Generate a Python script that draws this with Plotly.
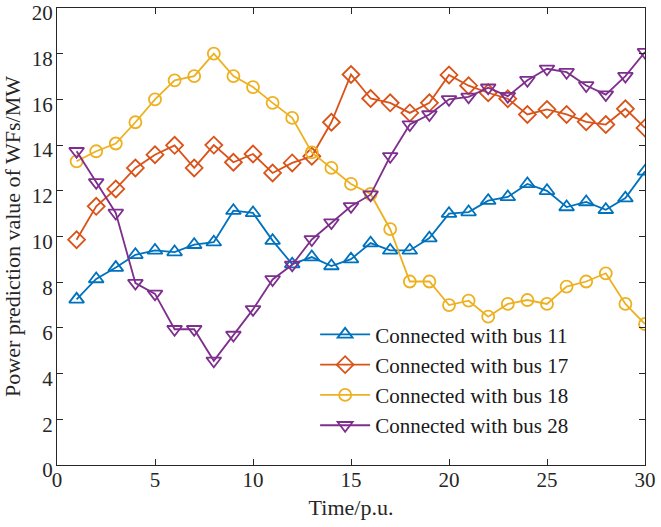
import plotly.graph_objects as go

time = list(range(1, 31))

bus11 = [7.25, 8.14, 8.64, 9.2, 9.39, 9.32, 9.64, 9.75, 11.13, 11.03,
         9.82, 8.79, 9.1, 8.71, 9.01, 9.71, 9.39, 9.39, 9.93, 11.0,
         11.07, 11.57, 11.73, 12.3, 12.0, 11.29, 11.51, 11.17, 11.68, 12.85]
bus17 = [9.86, 11.32, 12.08, 13.0, 13.58, 13.99, 13.0, 14.0, 13.25, 13.61,
         12.78, 13.22, 13.51, 15.0, 17.09, 16.04, 15.85, 15.41, 15.85, 17.07,
         16.6, 16.29, 16.03, 15.34, 15.56, 15.34, 15.02, 14.9, 15.59, 14.75]
bus18 = [13.29, 13.73, 14.07, 15.0, 16.0, 16.83, 17.02, 18.0, 17.02, 16.54,
         15.85, 15.19, 13.68, 13.0, 12.3, 11.86, 10.32, 8.03, 8.03, 7.0,
         7.19, 6.49, 7.05, 7.22, 7.05, 7.81, 8.03, 8.39, 7.05, 6.17]
bus28 = [13.73, 12.37, 11.03, 7.96, 7.49, 5.94, 5.94, 4.56, 5.69, 6.81,
         8.12, 8.76, 9.87, 10.61, 11.32, 11.83, 13.51, 14.9, 15.34, 16.0,
         16.11, 16.51, 16.14, 16.84, 17.34, 17.19, 16.61, 16.21, 17.02, 18.07]

x_ticks = [0, 5, 10, 15, 20, 25, 30]
y_ticks = [0, 2, 4, 6, 8, 10, 12, 14, 16, 18, 20]

names = ["Connected with bus 11", "Connected with bus 17",
         "Connected with bus 18", "Connected with bus 28"]
colors = ["#0072BD", "#D95319", "#EDB120", "#7E2F8E"]
symbols = ["triangle-up-open", "diamond-open", "circle-open", "triangle-down-open"]
sizes = [13, 13, 12, 13]

fig = go.Figure()
for ys, nm, c, s, sz in zip([bus11, bus17, bus18, bus28], names, colors, symbols, sizes):
    fig.add_trace(go.Scatter(
        x=time, y=ys, name=nm, mode="lines+markers",
        line=dict(color=c, width=1.8),
        marker=dict(symbol=s, size=sz, color=c, line=dict(color=c, width=1.8)),
    ))

axis_common = dict(
    showline=True, linecolor="#262626", linewidth=1.3, mirror="ticks",
    ticks="inside", ticklen=6, tickwidth=1, tickcolor="#262626",
    showgrid=False, zeroline=False, automargin=False,
    ticklabeloverflow="allow",
    tickfont=dict(family="Liberation Serif", size=21, color="#262626"),
)

fig.update_layout(
    width=661, height=527,
    margin=dict(l=57, r=16, t=8, b=62),
    paper_bgcolor="white", plot_bgcolor="white",
    font=dict(family="Liberation Serif", size=21, color="#262626"),
    xaxis=dict(range=[0, 30], tickmode="array", tickvals=x_ticks,
               ticktext=[str(v) for v in x_ticks], ticklabelstandoff=-4,
               title=dict(text="Time/p.u.", standoff=8, font=dict(size=22)), **axis_common),
    yaxis=dict(range=[0, 20], tickmode="array", tickvals=y_ticks,
               ticktext=[str(v) for v in y_ticks], ticklabelshift=5, ticklabelstandoff=-1,
               title=dict(text="Power prediction value of WFs/MW", standoff=6,
                          font=dict(size=22)), **axis_common),
    legend=dict(x=0.439, y=0.33, xanchor="left", yanchor="top",
                bgcolor="rgba(255,255,255,0)", borderwidth=0,
                font=dict(family="Liberation Serif", size=21, color="#1a1a1a"),
                itemwidth=50, tracegroupgap=0),
    showlegend=True,
)

fig.write_html("out.html", config={"displayModeBar": False},
               post_script="document.body.style.margin='0';document.body.style.overflow='hidden';")
